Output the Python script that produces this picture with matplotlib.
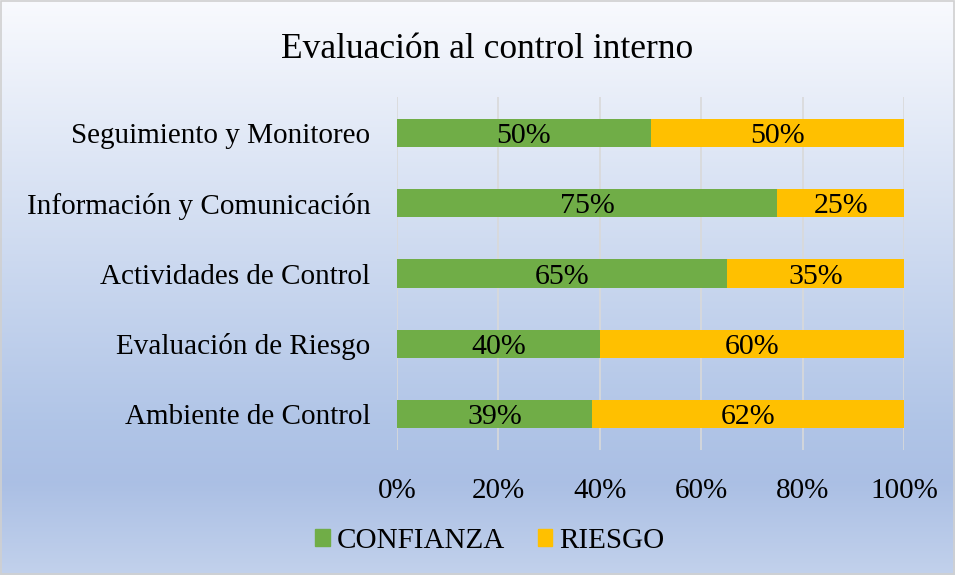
import math
import numpy as np
import matplotlib.pyplot as plt
from matplotlib.colors import LinearSegmentedColormap
from matplotlib.patches import Rectangle, Patch

plt.rcParams['font.family'] = ['Liberation Serif', 'DejaVu Serif']

categories = ['Ambiente de Control', 'Evaluación de Riesgo', 'Actividades de Control',
              'Información y Comunicación', 'Seguimiento y Monitoreo']
confianza = [38.5, 40, 65, 75, 50]
riesgo = [61.5, 60, 35, 25, 50]
xticks = [0, 20, 40, 60, 80, 100]

GREEN = '#70AD47'
GOLD = '#FFC000'


def pct(v):
    # Excel-style rounding (half up)
    return '%d%%' % math.floor(v + 0.5)


fig = plt.figure(figsize=(9.55, 5.75), dpi=100)

# gradient background for the chart area
bg = fig.add_axes([0, 0, 1, 1], zorder=-10)
grad = LinearSegmentedColormap.from_list('bg', [
    (0.0, (0.975, 0.98, 0.995)),
    (0.74, (0.69, 0.77, 0.905)),
    (0.84, (0.67, 0.75, 0.895)),
    (1.0, (0.76, 0.82, 0.925)),
])
bg.imshow(np.linspace(0, 1, 256).reshape(-1, 1), aspect='auto', cmap=grad,
          extent=[0, 1, 1, 0])
bg.set_xlim(0, 1)
bg.set_ylim(1, 0)
bg.axis('off')
bg.add_patch(Rectangle((0.001, 0.002), 0.998, 0.996, fill=False,
                       edgecolor='#d0d0d0', linewidth=1.2))

ax = fig.add_axes([397 / 955, 1 - 450 / 575, 507 / 955, 353 / 575])
ax.set_facecolor('none')
y = np.arange(len(categories))
ax.barh(y, confianza, height=0.4, color=GREEN, label='CONFIANZA', zorder=3)
ax.barh(y, riesgo, left=confianza, height=0.4, color=GOLD, label='RIESGO', zorder=3)

for i in range(len(categories)):
    ax.text(confianza[i] / 2, y[i], pct(confianza[i]), ha='center',
            va='center_baseline', fontsize=21.5, zorder=4)
    ax.text(confianza[i] + riesgo[i] / 2, y[i], pct(riesgo[i]), ha='center',
            va='center_baseline', fontsize=21.5, zorder=4)

ax.set_xlim(0, 100)
ax.set_ylim(-0.52, 4.52)
ax.set_xticks(xticks)
ax.set_xticklabels(['%d%%' % t for t in xticks])
ax.set_yticks(y)
ax.set_yticklabels(categories, va='center_baseline')
ax.tick_params(axis='both', length=0, labelsize=21)
ax.tick_params(axis='x', pad=20)
ax.tick_params(axis='y', pad=19)
ax.grid(axis='x', color='#d9d9d9', linewidth=1.2, zorder=0)
for s in ax.spines.values():
    s.set_visible(False)

fig.text(487 / 955, 1 - 49 / 575, 'Evaluación al control interno', ha='center',
         va='center', fontsize=25.5)

handles = [Patch(color=GREEN, label='CONFIANZA'), Patch(color=GOLD, label='RIESGO')]
fig.legend(handles=handles, loc='center', bbox_to_anchor=(490 / 955, 1 - 541 / 575),
           ncol=2, frameon=False, fontsize=21, handlelength=0.5, handleheight=0.5,
           handletextpad=0.25, columnspacing=1.1)

fig.savefig('out.png', dpi=100)
